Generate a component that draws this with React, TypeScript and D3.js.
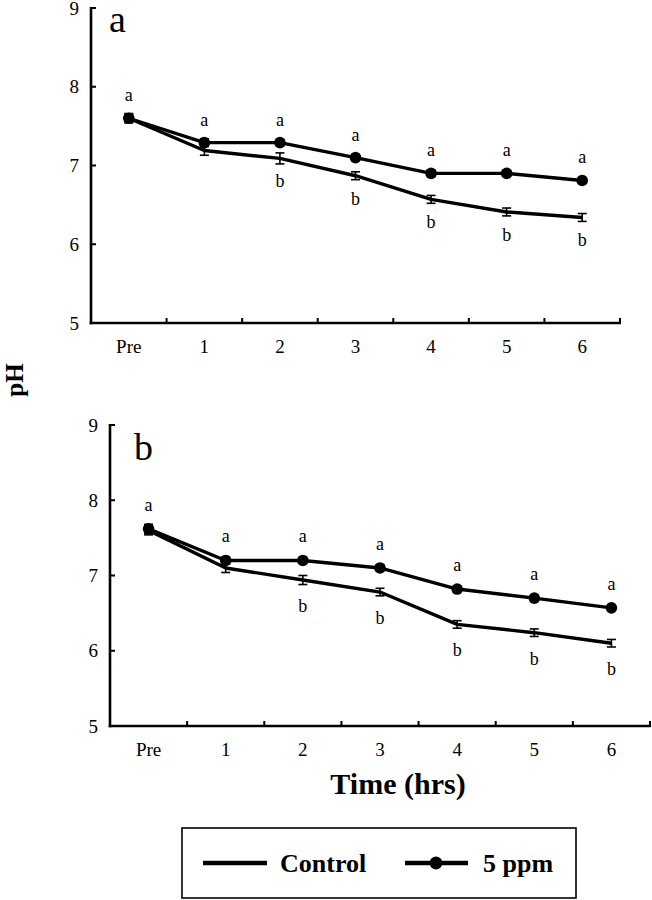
import React from "react";
import * as d3 from "d3";

const categories = ["Pre", "1", "2", "3", "4", "5", "6"];
const yTicks = [5, 6, 7, 8, 9];

const controlA = [7.6, 7.19, 7.09, 6.87, 6.57, 6.41, 6.34];
const controlAErr = [0.05, 0.06, 0.07, 0.05, 0.05, 0.05, 0.05];
const ppmA = [7.6, 7.29, 7.29, 7.1, 6.9, 6.9, 6.81];
const ppmAErr = [0.06, 0.05, 0.04, 0.04, 0.04, 0.03, 0.03];
const lettersCtrlA = ["", "", "b", "b", "b", "b", "b"];
const lettersPpmA = ["a", "a", "a", "a", "a", "a", "a"];

const controlB = [7.6, 7.1, 6.94, 6.78, 6.35, 6.24, 6.1];
const controlBErr = [0.06, 0.06, 0.06, 0.05, 0.05, 0.05, 0.05];
const ppmB = [7.62, 7.2, 7.2, 7.1, 6.82, 6.7, 6.57];
const ppmBErr = [0.06, 0.05, 0.04, 0.04, 0.04, 0.04, 0.03];
const lettersCtrlB = ["", "", "b", "b", "b", "b", "b"];
const lettersPpmB = ["a", "a", "a", "a", "a", "a", "a"];

const FONT = "'Liberation Serif', 'Times New Roman', serif";

type PanelProps = {
  left: number; right: number; top: number; bottom: number;
  label: string; labelX: number; labelY: number;
  ctrl: number[]; ctrlErr: number[]; ppm: number[]; ppmErr: number[];
  lc: string[]; lp: string[]; aOff: number; bOff: number;
};

function Panel(p: PanelProps) {
  const x = d3.scaleBand<string>().domain(categories).range([p.left, p.right]).padding(0);
  const y = d3.scaleLinear().domain([5, 9]).range([p.bottom, p.top]);
  const cx = (c: string) => (x(c) as number) + x.bandwidth() / 2;
  const line = d3.line<number>().x((_, i) => cx(categories[i])).y((d) => y(d));
  const tickXs = categories.map((c) => (x(c) as number) + x.bandwidth());
  return (
    <g>
      <line x1={p.left} x2={p.left} y1={p.top - 1} y2={p.bottom + 1.3} stroke="#000" strokeWidth={2.6} />
      <line x1={p.left - 1.3} x2={p.right + 1} y1={p.bottom} y2={p.bottom} stroke="#000" strokeWidth={2.6} />
      {yTicks.map((t) => (
        <g key={t}>
          <line x1={p.left} x2={p.left + 5} y1={y(t)} y2={y(t)} stroke="#000" strokeWidth={2} />
          <text x={p.left - 12} y={y(t)} dy="0.35em" textAnchor="end" fontFamily={FONT} fontSize={19}>{t}</text>
        </g>
      ))}
      {tickXs.map((tx, i) => (
        <line key={i} x1={tx} x2={tx} y1={p.bottom} y2={p.bottom - 5} stroke="#000" strokeWidth={2} />
      ))}
      {categories.map((c) => (
        <text key={c} x={cx(c)} y={p.bottom + 30} textAnchor="middle" fontFamily={FONT} fontSize={19}>{c}</text>
      ))}
      <text x={p.labelX} y={p.labelY} fontFamily={FONT} fontSize={38}>{p.label}</text>
      <path d={line(p.ctrl) || ""} fill="none" stroke="#000" strokeWidth={3.4} strokeLinejoin="round" />
      <path d={line(p.ppm) || ""} fill="none" stroke="#000" strokeWidth={3.4} strokeLinejoin="round" />
      {p.ctrl.map((v, i) => {
        const xx = cx(categories[i]);
        const e = p.ctrlErr[i];
        return (
          <g key={"c" + i}>
            <line x1={xx} x2={xx} y1={y(v + e)} y2={y(v - e)} stroke="#000" strokeWidth={1.6} />
            <line x1={xx - 4.5} x2={xx + 4.5} y1={y(v + e)} y2={y(v + e)} stroke="#000" strokeWidth={1.6} />
            <line x1={xx - 4.5} x2={xx + 4.5} y1={y(v - e)} y2={y(v - e)} stroke="#000" strokeWidth={1.6} />
          </g>
        );
      })}
      {p.ppm.map((v, i) => {
        const xx = cx(categories[i]);
        const e = p.ppmErr[i];
        return (
          <g key={"p" + i}>
            <line x1={xx} x2={xx} y1={y(v + e)} y2={y(v - e)} stroke="#000" strokeWidth={1.6} />
            <line x1={xx - 4.5} x2={xx + 4.5} y1={y(v + e)} y2={y(v + e)} stroke="#000" strokeWidth={1.6} />
            <line x1={xx - 4.5} x2={xx + 4.5} y1={y(v - e)} y2={y(v - e)} stroke="#000" strokeWidth={1.6} />
            <circle cx={xx} cy={y(v)} r={5.8} fill="#000" />
          </g>
        );
      })}
      {p.lp.map((l, i) => (
        <text key={"lp" + i} x={cx(categories[i])} y={y(p.ppm[i]) - p.aOff} textAnchor="middle" fontFamily={FONT} fontSize={18}>{l}</text>
      ))}
      {p.lc.map((l, i) => (
        <text key={"lc" + i} x={cx(categories[i])} y={y(p.ctrl[i]) + p.bOff} textAnchor="middle" fontFamily={FONT} fontSize={18}>{l}</text>
      ))}
    </g>
  );
}

export default function App() {
  return (
    <svg width={652} height={900} style={{ position: "absolute", left: 0, top: 0, background: "#fff" }}>
      <rect x={0} y={0} width={652} height={900} fill="#fff" />
      <Panel left={91} right={620} top={8} bottom={323} label="a" labelX={109} labelY={32}
        ctrl={controlA} ctrlErr={controlAErr} ppm={ppmA} ppmErr={ppmAErr}
        lc={lettersCtrlA} lp={lettersPpmA} aOff={17} bOff={29} />
      <Panel left={110} right={650} top={425} bottom={726} label="b" labelX={134} labelY={460}
        ctrl={controlB} ctrlErr={controlBErr} ppm={ppmB} ppmErr={ppmBErr}
        lc={lettersCtrlB} lp={lettersPpmB} aOff={18} bOff={32} />
      <text transform="translate(23,380) rotate(-90)" textAnchor="middle" fontFamily={FONT} fontSize={25} fontWeight="bold">pH</text>
      <text x={398} y={794} textAnchor="middle" fontFamily={FONT} fontSize={30} fontWeight="bold">Time (hrs)</text>
      <rect x={182} y={828} width={394} height={70} fill="none" stroke="#000" strokeWidth={1.6} />
      <line x1={203} x2={267} y1={863} y2={863} stroke="#000" strokeWidth={4.5} />
      <text x={280} y={872} fontFamily={FONT} fontSize={26} fontWeight="bold">Control</text>
      <line x1={405} x2={468} y1={863} y2={863} stroke="#000" strokeWidth={4.5} />
      <circle cx={436} cy={863} r={6.5} fill="#000" />
      <text x={483} y={872} fontFamily={FONT} fontSize={26} fontWeight="bold">5 ppm</text>
    </svg>
  );
}
